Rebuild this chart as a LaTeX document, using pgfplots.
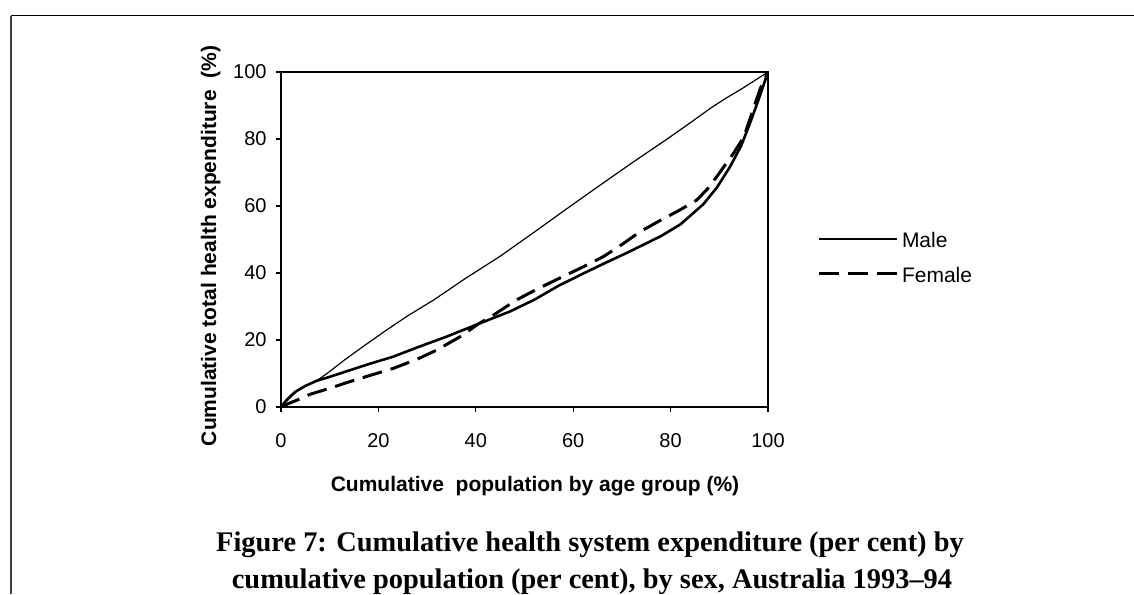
\documentclass[border=0pt]{standalone}
\usepackage{fontspec}
\setmainfont{Liberation Sans}
\newfontfamily\capserif{Liberation Serif}
\usepackage{pgfplots}
\pgfplotsset{compat=1.18}
\newcommand\capfont{\capserif\bfseries\fontsize{14.2}{17}\selectfont}
\begin{document}
\begin{tikzpicture}
\path[use as bounding box] (0pt,0pt) rectangle (567pt,297pt);
\draw[line width=0.75pt] (5.5pt,289.15pt) -- (567pt,289.15pt);
\draw[line width=0.6pt, black!75] (5.5pt,289.15pt) -- (5.5pt,0pt);
\begin{axis}[
  at={(140.5pt,93.5pt)}, anchor=south west,
  scale only axis, width=243.5pt, height=167.5pt,
  xmin=0, xmax=100, ymin=0, ymax=100,
  xtick={0,20,...,100}, ytick={0,20,...,100},
  xtick pos=bottom, ytick pos=left,
  tick align=outside, major tick length=2.5pt,
  tick style={black, line width=0.6pt},
  axis line style={line width=1pt},
  ticklabel style={font=\fontsize{10}{12}\selectfont},
  /pgf/number format/assume math mode=true,
  yticklabel style={inner sep=0pt, xshift=-4.5pt},
  xticklabel style={inner sep=0pt, yshift=-10.5pt},
  legend style={at={(rel axis cs:1.1006,0.5209)}, anchor=north west, draw=none, fill=none,
    font=\fontsize{10.5}{12}\selectfont, row sep=9.9pt, inner sep=0pt, outer sep=0pt,
    nodes={inner sep=0pt, text height=7.6pt, text depth=0pt},
    /tikz/every odd column/.append style={column sep=2pt}},
  legend image code/.code={\draw[#1] (0pt,0.6pt) -- (39pt,0.6pt);},
  legend cell align=left,
]
\addplot[black, line width=0.6pt, forget plot] coordinates {
(0,0) (2,3) (3.5,5) (6,7) (8,8.5) (10,10.6) (13,14) (17,18.2) (21.7,23) (26,27.2)
(31.3,31.9) (38,38.5) (45,45) (52,52.2) (58.7,59.2) (65.5,66.2) (72.3,73.1)
(79.2,79.9) (84,84.8) (88.4,89.4) (91.5,92.3) (94.3,94.7) (97,97.2) (100,100)};
\addplot[black, line width=1.3pt] coordinates {
(0,0) (1,1.8) (2,3.3) (3,4.6) (5,6.3) (7.3,7.8) (10,9) (14.2,11) (18,12.8) (23,15)
(28,17.8) (34,21) (40,24.5) (47,28.5) (52,32) (57,36.2) (62,39.8) (66,42.6) (71,46)
(78,51) (82,54.5) (86.7,60.5) (89.5,65.5) (92.2,71.7) (94.5,78) (96.3,84.7) (98,91.5) (100,100)};
\addlegendentry{Male}
\addplot[black, line width=1.5pt, dash pattern=on 10pt off 4.5pt] coordinates {
(0,0) (1.5,1) (3.2,2) (6,3.8) (10,5.6) (14.2,7.6) (18,9.3) (23,11.5) (28,14.3) (32,17)
(37.4,21.5) (40.2,24.5) (44,27.8) (48.4,32) (53,35.5) (58.7,39.5) (62,41.8) (66.2,44.9)
(70,48.5) (73.7,52.3) (78,55.8) (81.9,58.8) (85.4,61.8) (87.5,65) (89.5,68.8) (92.9,75.7)
(95,80.5) (96.3,86) (98.4,95) (100,100)};
\addlegendentry{Female}
\end{axis}
\node[font=\bfseries\fontsize{10.5}{12}\selectfont, anchor=base] at (267.5pt,51pt) {Cumulative\ \ population by age group (\%)};
\node[font=\bfseries\fontsize{10.5}{12}\selectfont, rotate=90, anchor=base] at (108pt,174pt) {Cumulative total health expenditure\ \ (\%)};
\node[font=\capfont, anchor=base, inner sep=0pt] at (295pt,21.5pt) {Figure 7: Cumulative health system expenditure (per cent) by};
\node[font=\capfont, anchor=base, inner sep=0pt] at (296pt,3pt) {cumulative population (per cent), by sex, Australia 1993–94};
\end{tikzpicture}
\end{document}
